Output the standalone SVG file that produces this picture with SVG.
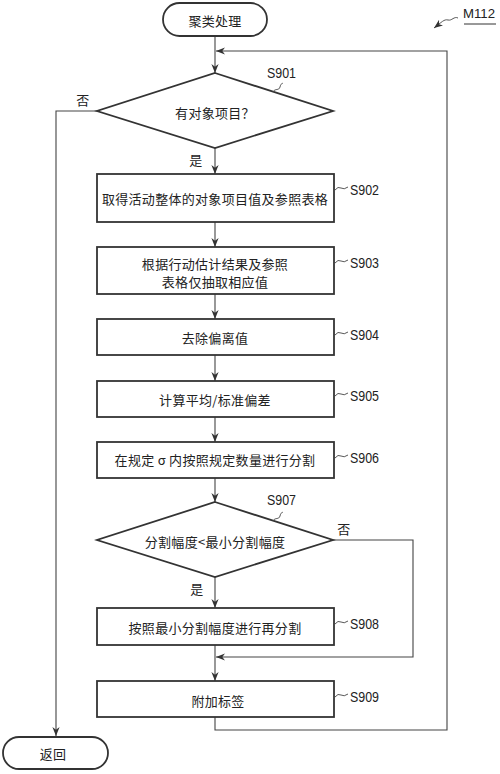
<svg xmlns="http://www.w3.org/2000/svg" width="500" height="774" viewBox="0 0 500 774">
<defs>
<marker id="ah" viewBox="0 0 10 10" refX="10" refY="5" markerWidth="9" markerHeight="9" markerUnits="userSpaceOnUse" orient="auto">
<path d="M0,1 L10,5 L0,9 L3,5 Z" fill="#333"/>
</marker>
<style>
.n{fill:#fff;stroke:#333;stroke-width:1.8}
.c{fill:none;stroke:#444;stroke-width:1.1}
.t{font-family:"Noto Sans CJK SC","Noto Sans",sans-serif;font-size:13px;fill:#222;text-anchor:middle;dominant-baseline:central;letter-spacing:0.3px}
.l{font-family:"Liberation Sans","Arial",sans-serif;font-size:15.5px;fill:#222;dominant-baseline:central}
.q{fill:none;stroke:#444;stroke-width:0.9}
</style>
</defs>
<rect width="500" height="774" fill="#fff"/>

<g id="connectors">
<line class="c" x1="215" y1="36" x2="215" y2="73" marker-end="url(#ah)"/>
<polyline class="c" points="215,717 215,730 447,730 447,51 216,51" marker-end="url(#ah)"/>
<polyline class="c" points="97,111 56,111 56,736" marker-end="url(#ah)"/>
<line class="c" x1="215" y1="148" x2="215" y2="174" marker-end="url(#ah)"/>
<line class="c" x1="215" y1="222" x2="215" y2="247" marker-end="url(#ah)"/>
<line class="c" x1="215" y1="294" x2="215" y2="319" marker-end="url(#ah)"/>
<line class="c" x1="215" y1="355" x2="215" y2="381" marker-end="url(#ah)"/>
<line class="c" x1="215" y1="417" x2="215" y2="442" marker-end="url(#ah)"/>
<line class="c" x1="215" y1="478" x2="215" y2="502" marker-end="url(#ah)"/>
<line class="c" x1="215" y1="577" x2="215" y2="608" marker-end="url(#ah)"/>
<line class="c" x1="215" y1="645" x2="215" y2="681" marker-end="url(#ah)"/>
<polyline class="c" points="333,540 413,540 413,657 216,657" marker-end="url(#ah)"/>
<text class="t" x="83" y="99">否</text>
<text class="t" x="196" y="159">是</text>
<text class="t" x="344" y="528">否</text>
<text class="t" x="197" y="588">是</text>
</g>

<g id="start">
<rect class="n" x="163" y="3" width="104" height="33" rx="16.5"/>
<text class="t" x="215" y="20">聚类处理</text>
</g>

<g id="S901">
<polygon class="n" points="215,73 333,111 215,148 97,111"/>
<text class="t" x="215" y="112">有对象项目？</text>
<path class="q" d="M273,92 c2,-4 6,-1 7,-5 s2,-3 3,-4"/>
<text class="l" x="267" y="72" textLength="29" lengthAdjust="spacingAndGlyphs">S901</text>
</g>

<g id="S902">
<rect class="n" x="97" y="174" width="237" height="48"/>
<text class="t" x="215" y="198">取得活动整体的对象项目值及参照表格</text>
<path class="q" d="M335,190 q3,-4 6,-2 t7,-1"/>
<text class="l" x="350" y="189" textLength="29" lengthAdjust="spacingAndGlyphs">S902</text>
</g>

<g id="S903">
<rect class="n" x="97" y="247" width="237" height="47"/>
<text class="t" x="215" y="263">根据行动估计结果及参照</text>
<text class="t" x="215" y="281">表格仅抽取相应值</text>
<path class="q" d="M335,263 q3,-4 6,-2 t7,-1"/>
<text class="l" x="350" y="262" textLength="29" lengthAdjust="spacingAndGlyphs">S903</text>
</g>

<g id="S904">
<rect class="n" x="97" y="319" width="237" height="36"/>
<text class="t" x="215" y="337">去除偏离值</text>
<path class="q" d="M335,335 q3,-4 6,-2 t7,-1"/>
<text class="l" x="350" y="334" textLength="29" lengthAdjust="spacingAndGlyphs">S904</text>
</g>

<g id="S905">
<rect class="n" x="97" y="381" width="237" height="36"/>
<text class="t" x="215" y="399">计算平均/标准偏差</text>
<path class="q" d="M335,396 q3,-4 6,-2 t7,-1"/>
<text class="l" x="350" y="395" textLength="29" lengthAdjust="spacingAndGlyphs">S905</text>
</g>

<g id="S906">
<rect class="n" x="97" y="442" width="237" height="36"/>
<text class="t" x="215" y="459">在规定 σ 内按照规定数量进行分割</text>
<path class="q" d="M335,458 q3,-4 6,-2 t7,-1"/>
<text class="l" x="350" y="457" textLength="29" lengthAdjust="spacingAndGlyphs">S906</text>
</g>

<g id="S907">
<polygon class="n" points="215,502 333,540 215,577 97,540"/>
<text class="t" x="215" y="541">分割幅度&lt;最小分割幅度</text>
<path class="q" d="M273,521 c2,-4 6,-1 7,-5 s2,-3 3,-4"/>
<text class="l" x="267" y="499" textLength="29" lengthAdjust="spacingAndGlyphs">S907</text>
</g>

<g id="S908">
<rect class="n" x="97" y="608" width="237" height="37"/>
<text class="t" x="215" y="627">按照最小分割幅度进行再分割</text>
<path class="q" d="M335,624 q3,-4 6,-2 t7,-1"/>
<text class="l" x="350" y="623" textLength="29" lengthAdjust="spacingAndGlyphs">S908</text>
</g>

<g id="S909">
<rect class="n" x="97" y="681" width="237" height="36"/>
<text class="t" x="218" y="700">附加标签</text>
<path class="q" d="M335,697 q3,-4 6,-2 t7,-1"/>
<text class="l" x="350" y="696" textLength="29" lengthAdjust="spacingAndGlyphs">S909</text>
</g>

<g id="end">
<rect class="n" x="3" y="737" width="105" height="32" rx="16"/>
<text class="t" x="53" y="753">返回</text>
</g>

<g id="M112">
<text class="l" x="463" y="13" style="font-size:13.5px" textLength="32" lengthAdjust="spacingAndGlyphs">M112</text>
<line x1="464" y1="24" x2="496" y2="24" stroke="#333" stroke-width="1"/>
<path class="q" d="M458,18 c-4,-2 -6,3 -10,2 s-6,2 -14,8" marker-end="url(#ah)"/>
</g>
</svg>
